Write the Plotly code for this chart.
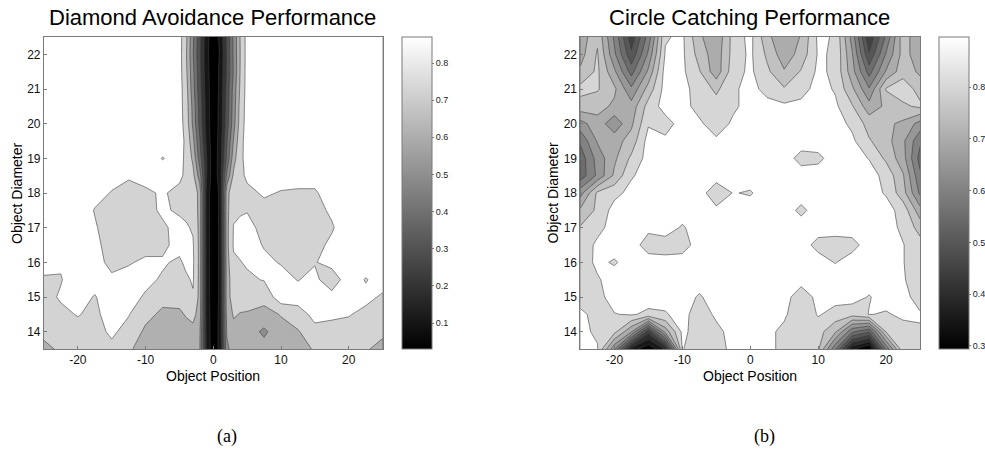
import plotly.graph_objects as go
import numpy as np

W, H = 985, 457

# ---------------- data: Diamond Avoidance (left) ----------------
x_diamond = [-25, -22.5, -20, -17.5, -15, -12.5, -10, -7.5, -5, -4, -3, -2, -1, 0,
             1, 2, 3, 4, 5, 7.5, 10, 12.5, 15, 17.5, 20, 22.5, 25]
y_diameter = [13.5, 14.0, 14.5, 15.0, 15.5, 16.0, 16.5, 17.0, 17.5, 18.0,
              18.5, 19.0, 19.5, 20.0, 20.5, 21.0, 21.5, 22.0, 22.5]

# rows: y = 13.5 ... 22.5 ; columns follow x_diamond
z_diamond = [
    [0.67, 0.72, 0.74, 0.76, 0.78, 0.72, 0.64, 0.62, 0.62, 0.63, 0.64, 0.61, 0.18, 0.03, 0.13, 0.58, 0.64, 0.63, 0.63, 0.64, 0.65, 0.66, 0.71, 0.74, 0.74, 0.71, 0.67],
    [0.73, 0.75, 0.77, 0.77, 0.815, 0.77, 0.68, 0.65, 0.64, 0.655, 0.67, 0.62, 0.17, 0.03, 0.13, 0.61, 0.67, 0.66, 0.65, 0.58, 0.67, 0.69, 0.78, 0.78, 0.77, 0.75, 0.72],
    [0.76, 0.78, 0.805, 0.78, 0.84, 0.805, 0.73, 0.68, 0.68, 0.71, 0.73, 0.66, 0.17, 0.03, 0.13, 0.64, 0.71, 0.695, 0.69, 0.67, 0.705, 0.77, 0.82, 0.81, 0.805, 0.78, 0.76],
    [0.77, 0.81, 0.83, 0.795, 0.84, 0.83, 0.79, 0.73, 0.74, 0.77, 0.79, 0.67, 0.16, 0.03, 0.12, 0.66, 0.745, 0.745, 0.75, 0.73, 0.86, 0.83, 0.83, 0.83, 0.83, 0.82, 0.79],
    [0.79, 0.795, 0.85, 0.83, 0.82, 0.82, 0.82, 0.79, 0.76, 0.785, 0.81, 0.67, 0.16, 0.03, 0.12, 0.66, 0.75, 0.76, 0.785, 0.805, 0.825, 0.797, 0.82, 0.747, 0.85, 0.795, 0.83],
    [0.83, 0.81, 0.86, 0.84, 0.77, 0.795, 0.81, 0.81, 0.785, 0.82, 0.815, 0.67, 0.16, 0.03, 0.12, 0.66, 0.785, 0.797, 0.81, 0.815, 0.795, 0.77, 0.795, 0.83, 0.86, 0.84, 0.86],
    [0.86, 0.85, 0.86, 0.83, 0.75, 0.76, 0.78, 0.78, 0.83, 0.83, 0.81, 0.67, 0.16, 0.03, 0.12, 0.67, 0.81, 0.82, 0.83, 0.795, 0.77, 0.75, 0.77, 0.82, 0.86, 0.86, 0.86],
    [0.86, 0.86, 0.86, 0.81, 0.75, 0.74, 0.75, 0.78, 0.84, 0.81, 0.79, 0.67, 0.16, 0.03, 0.12, 0.67, 0.805, 0.82, 0.83, 0.77, 0.76, 0.75, 0.765, 0.79, 0.86, 0.86, 0.86],
    [0.86, 0.86, 0.86, 0.795, 0.76, 0.75, 0.76, 0.82, 0.78, 0.78, 0.765, 0.67, 0.16, 0.03, 0.12, 0.67, 0.78, 0.79, 0.795, 0.775, 0.765, 0.76, 0.77, 0.815, 0.86, 0.86, 0.86],
    [0.86, 0.86, 0.86, 0.83, 0.795, 0.77, 0.785, 0.81, 0.775, 0.775, 0.76, 0.67, 0.16, 0.03, 0.12, 0.67, 0.76, 0.775, 0.78, 0.81, 0.795, 0.79, 0.79, 0.84, 0.86, 0.86, 0.86],
    [0.86, 0.86, 0.86, 0.85, 0.83, 0.81, 0.83, 0.84, 0.82, 0.78, 0.73, 0.55, 0.21, 0.03, 0.15, 0.52, 0.72, 0.78, 0.815, 0.84, 0.83, 0.83, 0.83, 0.85, 0.86, 0.86, 0.86],
    [0.86, 0.86, 0.86, 0.86, 0.85, 0.84, 0.85, 0.796, 0.83, 0.78, 0.68, 0.45, 0.21, 0.03, 0.15, 0.42, 0.66, 0.78, 0.83, 0.85, 0.86, 0.86, 0.86, 0.86, 0.86, 0.86, 0.86],
    [0.86, 0.86, 0.86, 0.86, 0.86, 0.86, 0.86, 0.85, 0.84, 0.78, 0.63, 0.41, 0.18, 0.03, 0.14, 0.39, 0.61, 0.77, 0.84, 0.86, 0.86, 0.86, 0.86, 0.86, 0.86, 0.86, 0.86],
    [0.86, 0.86, 0.86, 0.86, 0.86, 0.86, 0.86, 0.86, 0.84, 0.76, 0.58, 0.37, 0.16, 0.03, 0.13, 0.35, 0.56, 0.75, 0.84, 0.86, 0.86, 0.86, 0.86, 0.86, 0.86, 0.86, 0.86],
    [0.86, 0.86, 0.86, 0.86, 0.86, 0.86, 0.86, 0.86, 0.84, 0.75, 0.57, 0.36, 0.16, 0.03, 0.13, 0.34, 0.55, 0.74, 0.84, 0.86, 0.86, 0.86, 0.86, 0.86, 0.86, 0.86, 0.86],
    [0.86, 0.86, 0.86, 0.86, 0.86, 0.86, 0.86, 0.86, 0.84, 0.74, 0.54, 0.34, 0.15, 0.03, 0.12, 0.33, 0.54, 0.72, 0.84, 0.86, 0.86, 0.86, 0.86, 0.86, 0.86, 0.86, 0.86],
    [0.86, 0.86, 0.86, 0.86, 0.86, 0.86, 0.86, 0.86, 0.84, 0.72, 0.53, 0.33, 0.14, 0.03, 0.12, 0.31, 0.51, 0.71, 0.84, 0.86, 0.86, 0.86, 0.86, 0.86, 0.86, 0.86, 0.86],
    [0.86, 0.86, 0.86, 0.86, 0.86, 0.86, 0.86, 0.86, 0.84, 0.71, 0.51, 0.32, 0.13, 0.03, 0.11, 0.31, 0.52, 0.705, 0.84, 0.86, 0.86, 0.86, 0.86, 0.86, 0.86, 0.86, 0.86],
    [0.86, 0.86, 0.86, 0.86, 0.86, 0.86, 0.86, 0.86, 0.84, 0.72, 0.52, 0.33, 0.14, 0.03, 0.12, 0.32, 0.52, 0.71, 0.84, 0.86, 0.86, 0.86, 0.86, 0.86, 0.86, 0.86, 0.86],
]

# ---------------- data: Circle Catching (right) ----------------
x_circle = [-25, -22.5, -20, -17.5, -15, -12.5, -10, -7.5, -5, -2.5, 0,
            2.5, 5, 7.5, 10, 12.5, 15, 17.5, 20, 22.5, 25]

# one list per x position, values for y = 13.5 ... 22.5
z_circle_columns = [
    [0.86, 0.865, 0.86, 0.83, 0.83, 0.825, 0.82, 0.805, 0.76, 0.68, 0.57, 0.57, 0.61, 0.68, 0.78, 0.815, 0.76, 0.73, 0.72],
    [0.855, 0.84, 0.835, 0.835, 0.845, 0.86, 0.86, 0.835, 0.81, 0.81, 0.66, 0.67, 0.705, 0.73, 0.77, 0.805, 0.81, 0.805, 0.79],
    [0.66, 0.815, 0.848, 0.87, 0.87, 0.845, 0.87, 0.87, 0.87, 0.835, 0.76, 0.74, 0.73, 0.665, 0.74, 0.76, 0.71, 0.66, 0.64],
    [0.38, 0.705, 0.855, 0.87, 0.87, 0.87, 0.87, 0.87, 0.87, 0.865, 0.845, 0.81, 0.77, 0.74, 0.72, 0.66, 0.58, 0.51, 0.47],
    [0.31, 0.47, 0.84, 0.87, 0.87, 0.87, 0.83, 0.86, 0.87, 0.87, 0.87, 0.87, 0.87, 0.845, 0.82, 0.77, 0.71, 0.66, 0.62],
    [0.405, 0.72, 0.845, 0.87, 0.87, 0.865, 0.83, 0.87, 0.87, 0.87, 0.87, 0.87, 0.86, 0.83, 0.87, 0.87, 0.87, 0.855, 0.845],
    [0.852, 0.86, 0.87, 0.87, 0.87, 0.87, 0.83, 0.845, 0.87, 0.87, 0.87, 0.87, 0.87, 0.87, 0.87, 0.865, 0.86, 0.86, 0.86],
    [0.83, 0.83, 0.82, 0.845, 0.87, 0.87, 0.87, 0.87, 0.87, 0.87, 0.87, 0.87, 0.87, 0.86, 0.83, 0.83, 0.805, 0.78, 0.76],
    [0.82, 0.835, 0.86, 0.87, 0.87, 0.87, 0.87, 0.87, 0.86, 0.82, 0.87, 0.87, 0.86, 0.82, 0.82, 0.79, 0.72, 0.72, 0.71],
    [0.87, 0.87, 0.87, 0.87, 0.87, 0.87, 0.87, 0.87, 0.87, 0.852, 0.87, 0.87, 0.87, 0.86, 0.84, 0.84, 0.83, 0.82, 0.82],
    [0.87, 0.87, 0.87, 0.87, 0.87, 0.87, 0.87, 0.87, 0.87, 0.846, 0.87, 0.87, 0.87, 0.87, 0.87, 0.87, 0.86, 0.86, 0.865],
    [0.86, 0.865, 0.87, 0.87, 0.87, 0.87, 0.87, 0.87, 0.87, 0.87, 0.87, 0.87, 0.87, 0.87, 0.87, 0.83, 0.81, 0.79, 0.765],
    [0.84, 0.835, 0.86, 0.87, 0.87, 0.87, 0.87, 0.87, 0.87, 0.87, 0.87, 0.87, 0.87, 0.87, 0.86, 0.805, 0.755, 0.72, 0.705],
    [0.82, 0.82, 0.805, 0.82, 0.87, 0.87, 0.87, 0.87, 0.84, 0.87, 0.87, 0.835, 0.87, 0.87, 0.865, 0.83, 0.805, 0.77, 0.755],
    [0.81, 0.82, 0.855, 0.865, 0.87, 0.87, 0.835, 0.87, 0.87, 0.87, 0.87, 0.84, 0.87, 0.87, 0.87, 0.87, 0.86, 0.855, 0.86],
    [0.61, 0.76, 0.83, 0.87, 0.87, 0.848, 0.83, 0.87, 0.87, 0.87, 0.87, 0.87, 0.87, 0.87, 0.86, 0.845, 0.84, 0.845, 0.845],
    [0.36, 0.61, 0.82, 0.87, 0.87, 0.87, 0.835, 0.87, 0.87, 0.87, 0.87, 0.87, 0.86, 0.84, 0.805, 0.76, 0.72, 0.705, 0.68],
    [0.29, 0.555, 0.852, 0.847, 0.87, 0.87, 0.87, 0.87, 0.87, 0.87, 0.87, 0.848, 0.805, 0.78, 0.72, 0.655, 0.58, 0.505, 0.46],
    [0.61, 0.805, 0.845, 0.87, 0.87, 0.87, 0.87, 0.87, 0.87, 0.845, 0.835, 0.79, 0.77, 0.76, 0.76, 0.805, 0.705, 0.655, 0.61],
    [0.84, 0.83, 0.86, 0.865, 0.855, 0.852, 0.852, 0.84, 0.83, 0.77, 0.755, 0.72, 0.71, 0.74, 0.79, 0.83, 0.78, 0.77, 0.78],
    [0.84, 0.845, 0.855, 0.83, 0.82, 0.82, 0.82, 0.78, 0.72, 0.64, 0.61, 0.58, 0.61, 0.68, 0.81, 0.78, 0.74, 0.72, 0.705],
]
z_circle = np.array(z_circle_columns).T.tolist()

# tick labels
x_ticks = [-20, -10, 0, 10, 20]
x_tick_labels = ["-20", "-10", "0", "10", "20"]
y_ticks = [14, 15, 16, 17, 18, 19, 20, 21, 22]
cbar_ticks_diamond = [0.1, 0.2, 0.3, 0.4, 0.5, 0.6, 0.7, 0.8]
cbar_ticks_circle = [0.3, 0.4, 0.5, 0.6, 0.7, 0.8]

# ---------------- styling ----------------
FONT = "Liberation Sans, Arial, Helvetica, sans-serif"
FRAME = "#7a7a7a"
LINE = "#3c3c3c"


def band_scale(grays):
    n = len(grays) - 1
    return [[k / n, f"rgb({g},{g},{g})"] for k, g in enumerate(grays)]


left_scale = band_scale([0, 22, 52, 82, 113, 143, 176, 211, 255])
right_scale = band_scale([0, 24, 45, 66, 87, 108, 130, 151, 172, 193, 214, 255])
gray_cont = [[0, "rgb(0,0,0)"], [1, "rgb(255,255,255)"]]

top_px, bot_px = 37, 349
ydom = [1 - bot_px / H, 1 - top_px / H]
xdom_l = [44 / W, 383 / W]
xdom_r = [581 / W, 921 / W]
ymid = (ydom[0] + ydom[1]) / 2

fig = go.Figure()

fig.add_trace(go.Contour(
    x=x_diamond, y=y_diameter, z=z_diamond,
    contours=dict(start=0.1, end=0.8, size=0.1, coloring="fill", showlines=True),
    line=dict(color=LINE, width=0.6, smoothing=0),
    colorscale=left_scale, showscale=False, hoverinfo="skip",
    xaxis="x", yaxis="y",
))
fig.add_trace(go.Contour(
    x=x_circle, y=y_diameter, z=z_circle,
    contours=dict(start=0.35, end=0.85, size=0.05, coloring="fill", showlines=True),
    line=dict(color=LINE, width=0.6, smoothing=0),
    colorscale=right_scale, showscale=False, hoverinfo="skip",
    xaxis="x2", yaxis="y2",
))


def cbar(xpix, ticks):
    return dict(
        x=xpix / W, xanchor="left", xref="paper", xpad=0,
        y=ymid, yanchor="middle", ypad=0,
        len=bot_px - top_px, lenmode="pixels",
        thickness=30, thicknessmode="pixels",
        outlinewidth=1, outlinecolor=FRAME,
        tickvals=ticks, ticktext=[f"{t:.1f}" for t in ticks],
        ticks="outside", ticklen=2, tickcolor=FRAME,
        tickfont=dict(family=FONT, size=9, color="#222"),
    )


fig.add_trace(go.Scatter(
    x=[None], y=[None], mode="markers", showlegend=False, hoverinfo="skip",
    marker=dict(color=[0.5], colorscale=gray_cont, cmin=0.03, cmax=0.87,
                showscale=True, colorbar=cbar(402, cbar_ticks_diamond)),
    xaxis="x", yaxis="y",
))
fig.add_trace(go.Scatter(
    x=[None], y=[None], mode="markers", showlegend=False, hoverinfo="skip",
    marker=dict(color=[0.5], colorscale=gray_cont, cmin=0.294, cmax=0.897,
                showscale=True, colorbar=cbar(939, cbar_ticks_circle)),
    xaxis="x2", yaxis="y2",
))

axis_common = dict(showline=True, mirror=True, linecolor=FRAME, linewidth=1,
                   ticks="inside", ticklen=3, tickcolor=FRAME,
                   showgrid=False, zeroline=False,
                   tickfont=dict(family=FONT, size=12, color="#111"))

fig.update_layout(
    width=W, height=H,
    margin=dict(l=0, r=0, t=0, b=0),
    paper_bgcolor="white", plot_bgcolor="white",
    showlegend=False,
    xaxis=dict(domain=xdom_l, range=[-25, 25], tickvals=x_ticks, ticktext=x_tick_labels,
               anchor="y", **axis_common),
    yaxis=dict(domain=ydom, range=[13.5, 22.5], tickvals=y_ticks, anchor="x", **axis_common),
    xaxis2=dict(domain=xdom_r, range=[-25, 25], tickvals=x_ticks, ticktext=x_tick_labels,
                anchor="y2", **axis_common),
    yaxis2=dict(domain=ydom, range=[13.5, 22.5], tickvals=y_ticks, anchor="x2", **axis_common),
)


def ann(text, xp, yp, size, family=FONT, angle=0):
    fig.add_annotation(text=text, x=xp / W, y=1 - yp / H, xref="paper", yref="paper",
                       showarrow=False, xanchor="center", yanchor="middle",
                       textangle=angle, font=dict(family=family, size=size, color="#000"))


ann("Diamond Avoidance Performance", 212.5, 18, 22)
ann("Circle Catching Performance", 750, 18, 22)
ann("Object Position", 213.5, 376, 14)
ann("Object Position", 751, 376, 14)
ann("Object Diameter", 17, 193, 14, angle=-90)
ann("Object Diameter", 554, 193, 14, angle=-90)
ann("(a)", 227, 436, 18, family="Liberation Serif, DejaVu Serif, serif")
ann("(b)", 765, 436, 18, family="Liberation Serif, DejaVu Serif, serif")

fig.write_html("out.html", config={"displayModeBar": False},
               post_script="document.body.style.margin='0';")
